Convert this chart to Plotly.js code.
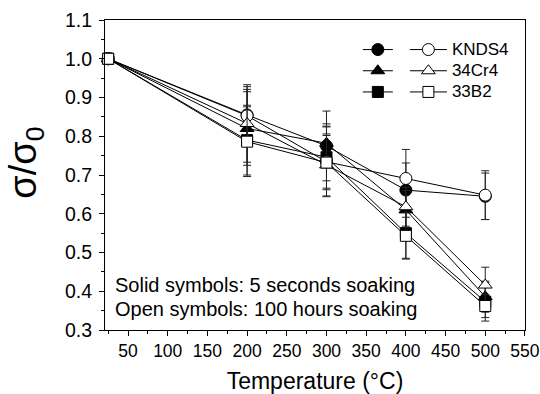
<!DOCTYPE html>
<html>
<head>
<meta charset="utf-8">
<script src="https://cdn.plot.ly/plotly-3.0.1.min.js"></script>
<style>html,body{margin:0;padding:0;background:#fff;}#chart{width:540px;height:394px;}</style>
</head>
<body>
<div id="chart"></div>
<script>
// Temperatures (°C)
const temperature = [25, 200, 300, 400, 500];
// Normalised strength sigma/sigma0 — solid symbols: 5 seconds soaking
const knds4Solid = [1.0, 0.855, 0.775, 0.661, 0.645];
const cr34Solid  = [1.0, 0.820, 0.782, 0.610, 0.386];
const b33Solid   = [1.0, 0.790, 0.746, 0.550, 0.373];
// Open symbols: 100 hours soaking
const knds4Open  = [1.0, 0.853, 0.734, 0.691, 0.648];
const cr34Open   = [1.0, 0.833, 0.726, 0.618, 0.416];
const b33Open    = [1.0, 0.786, 0.732, 0.543, 0.362];
// Error bar half-widths
const knds4SolidErr = [0.012, 0.073, 0.090, 0.070, 0.060];
const cr34SolidErr  = [0.012, 0.095, 0.050, 0.050, 0.040];
const b33SolidErr   = [0.012, 0.090, 0.080, 0.065, 0.050];
const knds4OpenErr  = [0.015, 0.068, 0.090, 0.075, 0.063];
const cr34OpenErr   = [0.012, 0.100, 0.080, 0.050, 0.046];
const b33OpenErr    = [0.012, 0.090, 0.070, 0.060, 0.030];
const materials = ['KNDS4', '34Cr4', '33B2'];
const xTicks = [50, 100, 150, 200, 250, 300, 350, 400, 450, 500, 550];
const yTicks = [0.3, 0.4, 0.5, 0.6, 0.7, 0.8, 0.9, 1.0, 1.1];
const yTitle = 'σ/σ<sub>0</sub>';
const xTitle = 'Temperature (°C)';

const FONT = 'Arial, "Liberation Sans", sans-serif';
function err(a){ return {type:'data', array:a, visible:true, color:'#222', thickness:1, width:4}; }
function trace(y, e, sym, filled, name, legend){
  return {
    x: temperature, y: y, error_y: err(e), mode: 'lines+markers', type: 'scatter',
    name: name, legend: legend,
    line: {color:'#000', width:1},
    marker: {symbol: sym, size: sym==='square' ? 11 : 12, color: filled ? '#000' : '#fff',
             line: {color:'#000', width:1}},
    cliponaxis: false
  };
}
function lbl(t){ return '<span style="font-size:17px">' + t + '</span>'; }
const data = [
  trace(knds4Solid, knds4SolidErr, 'circle', true, ' ', 'legend'),
  trace(cr34Solid, cr34SolidErr, 'triangle-up', true, ' ', 'legend'),
  trace(b33Solid, b33SolidErr, 'square', true, ' ', 'legend'),
  trace(knds4Open, knds4OpenErr, 'circle', false, lbl(materials[0]), 'legend2'),
  trace(cr34Open, cr34OpenErr, 'triangle-up', false, lbl(materials[1]), 'legend2'),
  trace(b33Open, b33OpenErr, 'square', false, lbl(materials[2]), 'legend2')
];
const axisCommon = {
  showline: true, linecolor: '#000', linewidth: 1, mirror: true,
  ticks: 'outside', ticklen: 5, tickwidth: 1, tickcolor: '#000',
  showgrid: false, zeroline: false
};
const layout = {
  width: 540, height: 394,
  margin: {l: 105, r: 15, t: 20, b: 64},
  paper_bgcolor: '#fff', plot_bgcolor: '#fff',
  showlegend: true,
  font: {family: FONT, color: '#000'},
  xaxis: Object.assign({}, axisCommon, {
    range: [21, 550.05], tickvals: xTicks, ticktext: xTicks.map(String),
    ticklabeloverflow: 'allow',
    tickfont: {family: FONT, size: 17.5, color: '#000'},
    minor: {dtick: 25, tick0: 0, ticks: 'outside', ticklen: 3, tickcolor: '#000', showgrid: false},
    title: {text: xTitle, font: {family: FONT, size: 23, color: '#000'}, standoff: 12}
  }),
  yaxis: Object.assign({}, axisCommon, {
    range: [0.3, 1.1], tickvals: yTicks, ticktext: yTicks.map(v => v.toFixed(1)),
    ticklabelstandoff: 3,
    tickfont: {family: FONT, size: 19.5, color: '#000'},
    minor: {dtick: 0.05, tick0: 0, ticks: 'outside', ticklen: 3, tickcolor: '#000', showgrid: false}
  }),
  legend: {x: 0.602, y: 0.955, xanchor: 'left', yanchor: 'top', bgcolor: 'rgba(0,0,0,0)',
           font: {family: FONT, size: 14, color: '#000'}, itemwidth: 30, tracegroupgap: 0},
  legend2: {x: 0.714, y: 0.955, xanchor: 'left', yanchor: 'top', bgcolor: 'rgba(0,0,0,0)',
           font: {family: FONT, size: 14, color: '#000'}, itemwidth: 37, tracegroupgap: 0},
  annotations: [
    {xref: 'paper', yref: 'paper', x: -0.19, y: 0.54, xanchor: 'center', yanchor: 'middle', showarrow: false,
     textangle: -90, text: yTitle, font: {family: FONT, size: 38, color: '#000'}},
    {xref: 'paper', yref: 'paper', x: 0.018, y: 0.146, xanchor: 'left', yanchor: 'middle', showarrow: false,
     text: 'Solid symbols: 5 seconds soaking', font: {family: FONT, size: 20, color: '#000'}},
    {xref: 'paper', yref: 'paper', x: 0.018, y: 0.069, xanchor: 'left', yanchor: 'middle', showarrow: false,
     text: 'Open symbols: 100 hours soaking', font: {family: FONT, size: 20, color: '#000'}}
  ]
};
Plotly.newPlot('chart', data, layout, {displayModeBar: false, staticPlot: true});
</script>
</body>
</html>
